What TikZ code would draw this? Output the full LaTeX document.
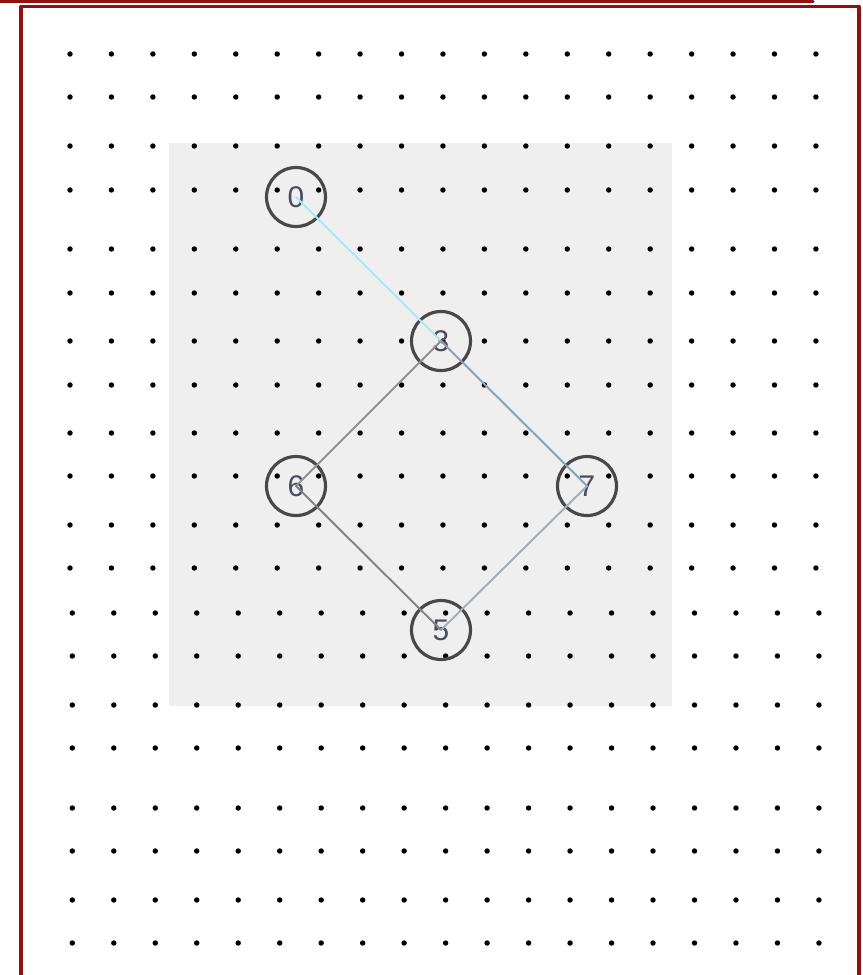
\documentclass[tikz,border=0pt]{standalone}
\usepackage{fontspec}
\setmainfont{Liberation Sans}
\usetikzlibrary{positioning}

\definecolor{framered}{RGB}{145,16,16}
\definecolor{panelgray}{RGB}{239,239,239}
\definecolor{ringgray}{RGB}{72,72,72}
\definecolor{labelgray}{RGB}{75,75,95}
\definecolor{linkcyan}{RGB}{170,232,238}
\definecolor{linkgray}{RGB}{145,145,145}
\definecolor{linkblue}{RGB}{140,160,180}

\begin{document}
\begin{tikzpicture}[x=0.02cm, y=-0.02cm, line join=round, line cap=round,
    vertex/.style={circle, draw=ringgray, line width=1.8pt, minimum size=1.18cm,
      inner sep=0pt, text=labelgray, font=\fontsize{17}{17}\selectfont},
    link/.style={line width=1.1pt}]
  \useasboundingbox (0,0) rectangle (863,975);
  \fill[white] (0,0) rectangle (863,975);
  \draw[framered, line width=2pt] (0,1.5) -- (813,1.5);
  \draw[framered, line width=1.9pt] (21,995) -- (21,6.5) -- (859,6.5) -- (859,995);
  \fill[panelgray] (169,143) rectangle (672,706);
  % dot grid
  \foreach \y in {54,97,146,190,249,293,341,385,433,476,525,568}
    \foreach \i in {0,...,18}
      \fill (70+41.44*\i,\y) circle (1.55pt);
  \foreach \y in {613,656,705,748,808,851,900,943}
    \foreach \i in {0,...,18}
      \fill (72.3+41.48*\i,\y) circle (1.55pt);
  \node[vertex] (n0) at (296,197) {0};
  \node[vertex] (n3) at (441,341) {3};
  \node[vertex] (n6) at (296,486) {6};
  \node[vertex] (n7) at (587,486) {7};
  \node[vertex] (n5) at (441,630) {5};
  \draw[link, linkcyan] (n0.center) -- (n3.center);
  \draw[link, linkgray] (n3.center) -- (n6.center);
  \draw[link, linkblue] (n3.center) -- (n7.center);
  \draw[link, linkgray!90!black] (n6.center) -- (n5.center);
  \draw[link, linkblue!85!white] (n7.center) -- (n5.center);
\end{tikzpicture}
\end{document}
